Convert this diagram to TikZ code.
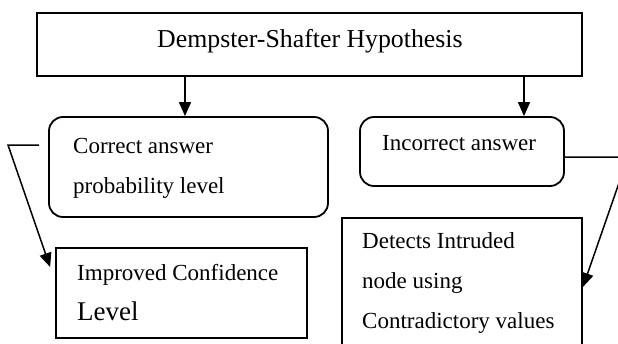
\documentclass[tikz,border=0pt]{standalone}
\usepackage{fontspec}
\setmainfont{Liberation Serif}
\usetikzlibrary{arrows.meta,calc}
\begin{document}
\begin{tikzpicture}[x=1pt,y=-1pt,
  box/.style={draw,line width=1.8pt,rectangle,inner sep=0pt},
  rbox/.style={box,rounded corners=14pt},
  txt/.style={anchor=base west,inner sep=0pt,font=\fontsize{23}{27}\selectfont},
  conn/.style={line width=1.5pt,-{Triangle[length=14pt,width=12pt]}}]
\useasboundingbox (0,0) rectangle (618,343);
\clip (0,0) rectangle (618,343);
\node[box,minimum width=545pt,minimum height=63pt] (top) at (309.5,44.5) {};
\node[txt,font=\fontsize{25.8}{30}\selectfont] (toptxt) at (157,47) {Dempster-Shafter Hypothesis};
\node[rbox,minimum width=279pt,minimum height=100pt] (cor) at (188.5,167) {};
\node[txt] (cor1) at (73,153) {Correct answer};
\node[txt] (cor2) at (73,193) {probability level};
\node[rbox,minimum width=204pt,minimum height=69pt] (inc) at (462,151.5) {};
\node[txt] (inc1) at (382,150) {Incorrect answer};
\node[box,minimum width=251pt,minimum height=90pt] (imp) at (181.5,293) {};
\node[txt] (imp1) at (77,280) {Improved Confidence};
\node[txt,font=\fontsize{27}{30}\selectfont] (imp2) at (77,320) {Level};
\node[box,minimum width=240pt,minimum height=136pt] (det) at (462,286) {};
\node[txt] (det1) at (362,248) {Detects Intruded};
\node[txt] (det2) at (362,288) {node using};
\node[txt] (det3) at (362,328) {Contradictory values};
\draw[conn] (top.south -| 185,0) -- (cor.north -| 185,0);
\draw[conn] (top.south -| 524,0) -- (inc.north -| 524,0);
\coordinate (c1) at ($(cor.west)+(-9,-22)$);
\coordinate (c2) at (8,145);
\coordinate (c3) at ($(imp.west)+(-5,-26)$);
\draw[conn] (c1) -- (c2) -- (c3);
\coordinate (d1) at ($(inc.east)+(0,5.5)$);
\coordinate (d2) at (628,157);
\coordinate (d3) at (det.east |- 0,287);
\draw[conn] (d1) -- (d2) -- (d3);
\end{tikzpicture}
\end{document}
